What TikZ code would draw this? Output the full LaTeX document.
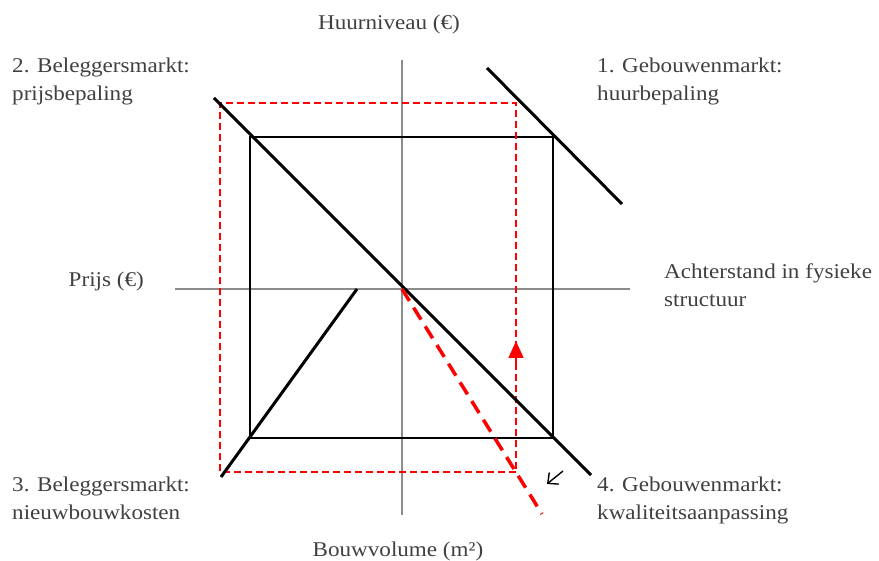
\documentclass[tikz,border=0pt]{standalone}
\usepackage{fontspec}
\setmainfont{Liberation Serif}[FakeStretch=1.1]
\usetikzlibrary{arrows.meta}
\definecolor{txt}{HTML}{404040}
\definecolor{axisgrey}{HTML}{8C8C8C}
\definecolor{rd}{HTML}{FF0000}
\begin{document}
\begin{tikzpicture}[x=1pt,y=-1pt,
  lbl/.style={text=txt,font=\fontsize{21}{29}\selectfont,inner sep=0pt,anchor=base west},
  axisline/.style={draw=axisgrey,line width=1.5pt},
  thinbox/.style={draw=black,line width=1.8pt},
  curve/.style={draw=black,line width=3pt},
  reddash/.style={draw=rd,line width=1.5pt,dash pattern=on 7pt off 4pt},
  redthick/.style={draw=rd,line width=3.5pt,dash pattern=on 14pt off 8pt},
  redtip/.style={draw=rd,line width=1.5pt,-{Triangle[length=17pt,width=15pt,fill=rd]}},
  smallarrow/.style={draw=black,line width=1.4pt,-{Straight Barb[length=8pt,width=15pt]}}]
\useasboundingbox (0,0) rectangle (879,561);
% axes
\coordinate (vt) at (402,60); \coordinate (vb) at (402,515);
\coordinate (hl) at (175,289); \coordinate (hr) at (630,289);
\draw[axisline] (vt) -- (vb);
\draw[axisline] (hl) -- (hr);
% square
\coordinate (sqtl) at (250,137); \coordinate (sqbr) at (553,438);
\draw[thinbox] (sqtl) rectangle (sqbr);
% red dashed rectangle
\coordinate (rtl) at (220,103); \coordinate (rtr) at (516,103);
\coordinate (rbl) at (220,472); \coordinate (rbr) at (516,472);
\draw[reddash] (rbr) -- (rbl) -- (rtl) -- (rtr) -- cycle;
\coordinate (atail) at (516,364); \coordinate (ahead) at (516,341);
\draw[redtip] (atail) -- (ahead);
% thick lines
\coordinate (d1) at (214,98); \coordinate (d2) at (591,475);
\draw[curve] (d1) -- (d2);
\coordinate (g1) at (487,68); \coordinate (g2) at (622,204);
\draw[curve] (g1) -- (g2);
\coordinate (b1) at (221,477); \coordinate (b2) at (357,289);
\draw[curve] (b1) -- (b2);
% thick red dashed
\coordinate (o) at (402,289); \coordinate (re) at (542,514);
\draw[redthick] (o) -- (re);
% small arrow
\coordinate (sa1) at (563,471); \coordinate (sa2) at (547,484);
\draw[smallarrow] (sa1) -- (sa2);
% labels
\node[lbl,anchor=base] (huur) at (389,30) {Huurniveau (€)};
\node[lbl] (l2a) at (12,73) {2. Beleggersmarkt:};
\node[lbl] (l2b) at (12,101) {prijsbepaling};
\node[lbl] (l1a) at (597,73) {1. Gebouwenmarkt:};
\node[lbl] (l1b) at (597,101) {huurbepaling};
\node[lbl,anchor=base east] (prijs) at (144,287) {Prijs (€)};
\node[lbl] (acha) at (664,279) {Achterstand in fysieke};
\node[lbl] (achb) at (664,307) {structuur};
\node[lbl] (l3a) at (12,491) {3. Beleggersmarkt:};
\node[lbl] (l3b) at (12,519) {nieuwbouwkosten};
\node[lbl] (l4a) at (597,491) {4. Gebouwenmarkt:};
\node[lbl] (l4b) at (597,519) {kwaliteitsaanpassing};
\node[lbl,anchor=base] (bouw) at (398,556) {Bouwvolume (m²)};
\end{tikzpicture}
\end{document}
